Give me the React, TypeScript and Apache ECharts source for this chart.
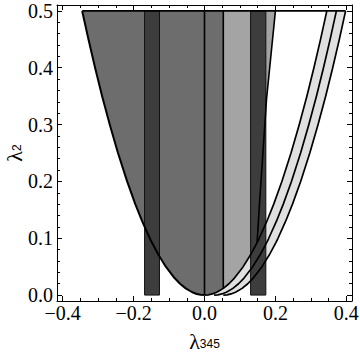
import React, { useEffect, useRef } from "react";
import * as echarts from "echarts";

// Axis ticks
const xMajorTicks = [-0.4, -0.2, 0, 0.2, 0.4];
const xMinorTicks = [-0.35, -0.3, -0.25, -0.15, -0.1, -0.05, 0.05, 0.1, 0.15, 0.25, 0.3, 0.35];
const yMajorTicks = [0, 0.1, 0.2, 0.3, 0.4, 0.5];
const yMinorTicks = [
  0.02, 0.04, 0.06, 0.08, 0.12, 0.14, 0.16, 0.18, 0.22, 0.24, 0.26, 0.28,
  0.32, 0.34, 0.36, 0.38, 0.42, 0.44, 0.46, 0.48,
];

// Parabolic boundary: λ2 levels and half widths in λ345
const curveLevels = [0, 0.0005, 0.002, 0.005, 0.0118, 0.02, 0.03, 0.05, 0.07, 0.0924, 0.1, 0.13, 0.16, 0.2, 0.25, 0.3, 0.35, 0.4, 0.45, 0.5];
const curveHalfWidths = [0, 0.0109, 0.0218, 0.0345, 0.053, 0.069, 0.0845, 0.1091, 0.1291, 0.1483, 0.1543, 0.1759, 0.1952, 0.2182, 0.244, 0.2673, 0.2887, 0.3086, 0.3273, 0.345];
// vertices of the three right-hand curves
const vertexShifts = [0, 0.027, 0.053];
// vertical dividers (x, starting λ2)
const dividers = [
  [0, 0],
  [0.053, 0.0118],
];
// dark vertical bands [xFrom, xTo]
const bands = [
  [-0.169, -0.127],
  [0.13, 0.173],
];
// steep right edge of the light region
const steepEdge = [
  [0.1483, 0.0924],
  [0.156, 0.169],
  [0.175, 0.345],
  [0.2, 0.5],
];
const topLevel = 0.5;
const yLow = 0;

const colors = {
  dark: "#6d6d6d",
  light: "#a4a4a4",
  band: "#e0e0e0",
  bar: "#3d3d3d",
  line: "#000000",
};

type Shape = { kind: "polygon" | "polyline"; points: number[][]; fill?: string; stroke?: string; width?: number };

function buildShapes(): Shape[] {
  const n = curveLevels.length;
  const idxDiv = curveLevels.indexOf(dividers[1][1]);
  const idxEdge = curveLevels.indexOf(steepEdge[0][1]);
  const shift2 = vertexShifts[2];
  const shapes: Shape[] = [];

  const bandPts: number[][] = [];
  for (let i = 0; i < n; i++) bandPts.push([vertexShifts[0] + curveHalfWidths[i], curveLevels[i]]);
  for (let i = n - 1; i >= 0; i--) bandPts.push([shift2 + curveHalfWidths[i], curveLevels[i]]);
  shapes.push({ kind: "polygon", points: bandPts, fill: colors.band });

  const darkPts: number[][] = [];
  for (let i = n - 1; i >= 0; i--) darkPts.push([-curveHalfWidths[i], curveLevels[i]]);
  for (let i = 1; i <= idxDiv; i++) darkPts.push([curveHalfWidths[i], curveLevels[i]]);
  darkPts.push([dividers[1][0], topLevel]);
  shapes.push({ kind: "polygon", points: darkPts, fill: colors.dark });

  const lightPts: number[][] = [];
  for (let i = idxDiv; i <= idxEdge; i++) lightPts.push([curveHalfWidths[i], curveLevels[i]]);
  for (let i = 1; i < steepEdge.length; i++) lightPts.push(steepEdge[i]);
  lightPts.push([dividers[1][0], topLevel]);
  shapes.push({ kind: "polygon", points: lightPts, fill: colors.light });

  bands.forEach(([a, b]) => {
    shapes.push({
      kind: "polygon",
      points: [[a, yLow], [b, yLow], [b, topLevel], [a, topLevel]],
      fill: colors.bar,
      stroke: "#111",
      width: 1,
    });
  });

  const left: number[][] = [];
  for (let i = 0; i < n; i++) left.push([-curveHalfWidths[i], curveLevels[i]]);
  shapes.push({ kind: "polyline", points: left, width: 2 });

  vertexShifts.forEach((s) => {
    const pts: number[][] = [];
    for (let i = 0; i < n; i++) pts.push([s + curveHalfWidths[i], curveLevels[i]]);
    shapes.push({ kind: "polyline", points: pts, width: 1.7 });
  });

  dividers.forEach(([x, y0]) => {
    shapes.push({ kind: "polyline", points: [[x, y0], [x, topLevel]], width: 1.6 });
  });

  shapes.push({ kind: "polyline", points: steepEdge, width: 1.6 });

  shapes.push({
    kind: "polyline",
    points: [[-curveHalfWidths[n - 1], topLevel], [shift2 + curveHalfWidths[n - 1], topLevel]],
    width: 1.6,
  });
  return shapes;
}

const serif = "Liberation Serif";
const sans = "Liberation Sans";
const X_MIN = -0.416;
const X_MAX = 0.416;
const Y_MIN = -0.0104;
const Y_MAX = 0.5104;

const fmtX = (v: number) => (v < 0 ? "\u2212" : "") + Math.abs(v).toFixed(1);
const fmtY = (v: number) => v.toFixed(1);

function axis(extra: any) {
  return {
    type: "value",
    splitLine: { show: false },
    axisLine: { show: false, onZero: false },
    axisLabel: { show: false },
    axisTick: { show: false },
    ...extra,
  };
}

export default function App() {
  const ref = useRef<HTMLDivElement>(null);
  useEffect(() => {
    document.body.style.margin = "0";
    if (!ref.current) return;
    const chart = echarts.init(ref.current, null, { renderer: "svg" });
    const shapes = buildShapes();
    const lineStyle = { color: "#000", width: 1 };
    const richName = {
      l: { fontFamily: serif, fontSize: 22, lineHeight: 22, color: "#000", verticalAlign: "top" },
      s: { fontFamily: sans, fontSize: 12, lineHeight: 14, color: "#000", verticalAlign: "top", padding: [8, 0, 0, 0] },
    };
    const xCommon = { min: X_MIN, max: X_MAX };
    const yCommon = { min: Y_MIN, max: Y_MAX };
    chart.setOption({
      animation: false,
      textStyle: { fontFamily: serif },
      grid: { left: 57, right: 8, top: 5, bottom: 55, containLabel: false, outerBoundsMode: "none" },
      xAxis: [
        axis({
          ...xCommon,
          position: "bottom",
          axisLine: { show: true, onZero: false, lineStyle },
          axisTick: { show: true, inside: true, length: 5, customValues: xMajorTicks, lineStyle },
          axisLabel: {
            show: true,
            customValues: xMajorTicks,
            formatter: fmtX,
            fontFamily: serif,
            fontSize: 20,
            color: "#000",
            margin: 2,
          },
          name: "{l|λ}{s|345}",
          nameLocation: "middle",
          nameGap: 29,
          nameMoveOverlap: false,
          nameTextStyle: { rich: richName },
        }),
        axis({
          ...xCommon,
          position: "bottom",
          axisTick: { show: true, inside: true, length: 3, customValues: xMinorTicks, lineStyle },
          axisLabel: { show: false, customValues: xMinorTicks },
        }),
        axis({
          ...xCommon,
          position: "top",
          axisLine: { show: true, onZero: false, lineStyle },
          axisTick: { show: true, inside: true, length: 5, customValues: xMajorTicks, lineStyle },
          axisLabel: { show: false, customValues: xMajorTicks },
        }),
        axis({
          ...xCommon,
          position: "top",
          axisTick: { show: true, inside: true, length: 3, customValues: xMinorTicks, lineStyle },
          axisLabel: { show: false, customValues: xMinorTicks },
        }),
      ],
      yAxis: [
        axis({
          ...yCommon,
          position: "left",
          axisLine: { show: true, onZero: false, lineStyle },
          axisTick: { show: true, inside: true, length: 5, customValues: yMajorTicks, lineStyle },
          axisLabel: {
            show: true,
            customValues: yMajorTicks,
            formatter: fmtY,
            fontFamily: serif,
            fontSize: 20,
            color: "#000",
            margin: 4,
          },
          name: "{l|λ}{s|2}",
          nameLocation: "middle",
          nameGap: 32,
          nameMoveOverlap: false,
          nameTextStyle: { rich: richName },
        }),
        axis({
          ...yCommon,
          position: "left",
          axisTick: { show: true, inside: true, length: 3, customValues: yMinorTicks, lineStyle },
          axisLabel: { show: false, customValues: yMinorTicks },
        }),
        axis({
          ...yCommon,
          position: "right",
          axisLine: { show: true, onZero: false, lineStyle },
          axisTick: { show: true, inside: true, length: 5, customValues: yMajorTicks, lineStyle },
          axisLabel: { show: false, customValues: yMajorTicks },
        }),
        axis({
          ...yCommon,
          position: "right",
          axisTick: { show: true, inside: true, length: 3, customValues: yMinorTicks, lineStyle },
          axisLabel: { show: false, customValues: yMinorTicks },
        }),
      ],
      series: [
        {
          type: "custom",
          coordinateSystem: "cartesian2d",
          xAxisIndex: 0,
          yAxisIndex: 0,
          silent: true,
          clip: false,
          z: 1,
          data: shapes.map(() => [0, 0.25]),
          renderItem: (params: any, api: any) => {
            const s = shapes[params.dataIndex];
            const pts = s.points.map((p) => api.coord(p));
            if (s.kind === "polygon") {
              return {
                type: "polygon",
                shape: { points: pts },
                style: { fill: s.fill, stroke: s.stroke || null, lineWidth: s.width || 0 },
              };
            }
            return {
              type: "polyline",
              shape: { points: pts },
              style: { fill: null, stroke: colors.line, lineWidth: s.width || 1, lineJoin: "round" },
            };
          },
        },
      ],
    });
    return () => chart.dispose();
  }, []);
  return (
    <div
      ref={ref}
      style={{ position: "fixed", left: 0, top: 0, width: 360, height: 356, background: "#fff" }}
    />
  );
}
